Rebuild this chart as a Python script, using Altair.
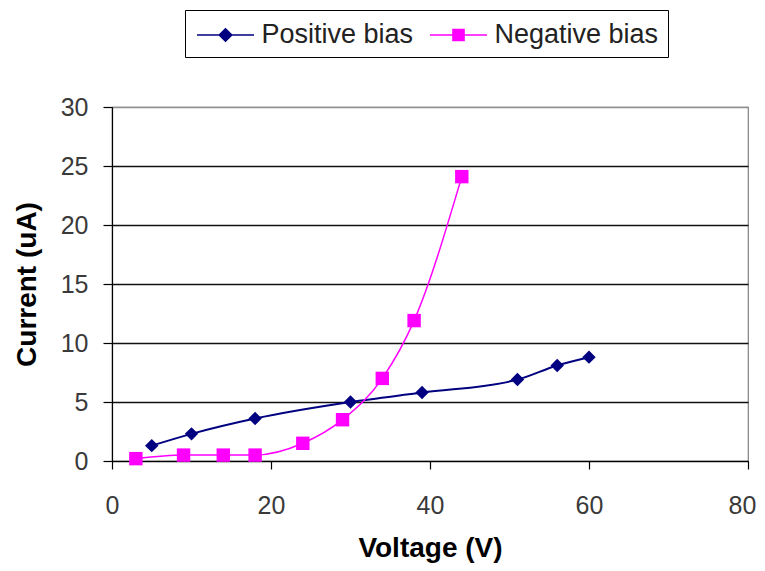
import altair as alt
import pandas as pd

# ---- data ----
series_names = ["Positive bias", "Negative bias"]
series_colors = ["#000080", "#FF00FF"]
series_widths = [2.0, 1.5]

pos_voltage = [5, 10, 18, 30, 39, 51, 56, 60]
pos_current = [1.3, 2.3, 3.6, 5.0, 5.8, 6.9, 8.1, 8.8]

neg_voltage = [3, 9, 14, 18, 24, 29, 34, 38, 44]
neg_current = [0.2, 0.5, 0.5, 0.5, 1.5, 3.5, 7.0, 11.9, 24.1]

x_ticks = [0, 20, 40, 60, 80]
y_ticks = [0, 5, 10, 15, 20, 25, 30]

rows = []
for i, (v, c) in enumerate(zip(pos_voltage, pos_current)):
    rows.append({"series": series_names[0], "V": v, "I": c, "order": i})
for i, (v, c) in enumerate(zip(neg_voltage, neg_current)):
    rows.append({"series": series_names[1], "V": v, "I": c, "order": i})
df = pd.DataFrame(rows)

FONT = "Liberation Sans"

x_enc = alt.X(
    "V:Q",
    scale=alt.Scale(domain=[0, 80], nice=False, zero=True),
    axis=alt.Axis(
        values=x_ticks, title="Voltage (V)", grid=False,
        tickSize=8, labelPadding=24, titlePadding=16,
        labelOffset={"condition": {"test": "datum.value === 80", "value": -6}, "value": 0},
        labelFontSize=25, titleFontSize=28, labelFont=FONT, titleFont=FONT,
        labelColor="#3a3a3a", titleColor="#000000", titleFontWeight="bold",
        domainColor="#000000", tickColor="#000000", domainWidth=1.2, tickWidth=1.2,
        labelFlush=False,
    ),
)
y_enc = alt.Y(
    "I:Q",
    scale=alt.Scale(domain=[0, 30], nice=False),
    axis=alt.Axis(
        values=y_ticks, title="Current (uA)", grid=True,
        gridColor={"condition": {"test": "datum.value === 30", "value": "#909090"}, "value": "#111111"},
        gridWidth=1.3,
        tickSize=9, labelPadding=15, titlePadding=19,
        labelFontSize=25, titleFontSize=28, labelFont=FONT, titleFont=FONT,
        labelColor="#3a3a3a", titleColor="#000000", titleFontWeight="bold",
        domainColor="#000000", tickColor="#000000", domainWidth=1.2, tickWidth=1.2,
    ),
)

color_scale = alt.Scale(domain=series_names, range=series_colors)

lines = alt.Chart(df).mark_line(interpolate="monotone").encode(
    x=x_enc, y=y_enc,
    color=alt.Color("series:N", scale=color_scale, legend=None),
    strokeWidth=alt.StrokeWidth("series:N", scale=alt.Scale(domain=series_names, range=series_widths), legend=None),
    order="order:Q",
)

points = alt.Chart(df).mark_point(filled=True, opacity=1, size=180).encode(
    x=x_enc, y=y_enc,
    color=alt.Color("series:N", scale=color_scale, legend=None),
    shape=alt.Shape("series:N", scale=alt.Scale(domain=series_names, range=["diamond", "square"]), legend=None),
)

diamond_path = "M-1.9,0L1.9,0M0,-0.42L0.42,0L0,0.42L-0.42,0Z"
square_path = "M-1.9,0L1.9,0M-0.37,-0.37L0.37,-0.37L0.37,0.37L-0.37,0.37Z"

leg = alt.Legend(
    title=None, orient="none", legendX=73, legendY=-97, direction="horizontal",
    symbolSize=900, symbolOpacity=1, symbolStrokeWidth=1.5, symbolOffset=15.5,
    labelFontSize=27, labelFont=FONT, labelColor="#222222", labelOffset=20,
    columnPadding=13, padding=9, strokeColor="#000000", fillColor="#FFFFFF",
    labelLimit=300,
)

legend_layer = alt.Chart(df).mark_point(filled=True, opacity=0, strokeWidth=1.5).encode(
    x=x_enc, y=y_enc,
    fill=alt.Fill("series:N", scale=color_scale, legend=leg),
    stroke=alt.Stroke("series:N", scale=color_scale, legend=leg),
    shape=alt.Shape("series:N", scale=alt.Scale(domain=series_names, range=[diamond_path, square_path]), legend=leg),
)

chart = (
    alt.layer(lines, points, legend_layer)
    .resolve_scale(shape="independent", fill="independent", stroke="independent")
    .properties(
        width=636, height=354,
        autosize=alt.AutoSizeParams(type="none"),
        padding={"left": 104, "top": 99, "right": 9, "bottom": 102},
        background="#FFFFFF",
    )
    .configure_view(stroke="#808080", strokeWidth=1.2)
)

chart.save("out.html", embed_options={"renderer": "svg", "actions": False})
